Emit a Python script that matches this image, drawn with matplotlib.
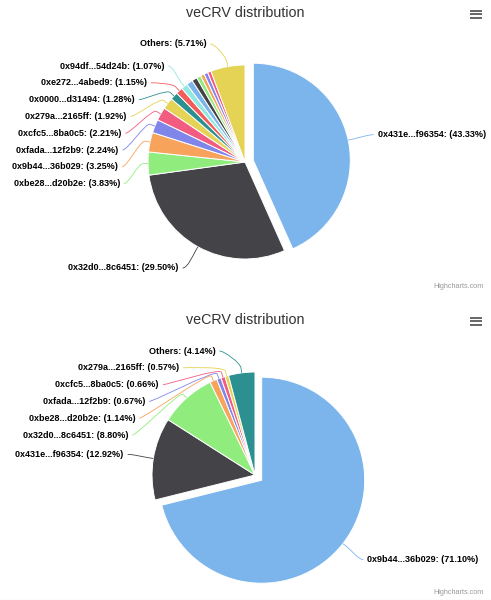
import numpy as np
import matplotlib
matplotlib.use("Agg")
import matplotlib.pyplot as plt
from matplotlib.path import Path
from matplotlib.patches import PathPatch

W, H = 491, 600
TITLE = "veCRV distribution"
PALETTE = ["#7cb5ec", "#434348", "#90ed7d", "#f7a35c", "#8085e9",
           "#f15c80", "#e4d354", "#2b908f", "#f45b5b", "#91e8e1"]

# None = slice whose label Highcharts dropped (no room left)
top_names = ["0x431e...f96354", "0x32d0...8c6451", "0xbe28...d20b2e",
             "0x9b44...36b029", "0xfada...12f2b9", "0xcfc5...8ba0c5",
             "0x279a...2165ff", "0x0000...d31494", "0xe272...4abed9",
             "0x94df...54d24b", None, None, None, None, None, None, "Others"]
top_values = [43.33, 29.50, 3.83, 3.25, 2.24, 2.21, 1.92, 1.28, 1.15, 1.07,
              1.05, 0.90, 0.70, 0.65, 0.63, 0.58, 5.71]

bottom_names = ["0x9b44...36b029", "0x431e...f96354", "0x32d0...8c6451",
                "0xbe28...d20b2e", "0xfada...12f2b9", "0xcfc5...8ba0c5",
                "0x279a...2165ff", "Others"]
bottom_values = [71.10, 12.92, 8.80, 1.14, 0.67, 0.66, 0.57, 4.14]

# layout in screen pixels, y pointing down
TOP = dict(cx=245, cy=162, r=97, title_y=13, label_top=44, label_bottom=268,
           credit_y=287)
BOTTOM = dict(cx=255, cy=475, r=103, title_y=320, label_top=351,
              label_bottom=575, credit_y=593)
SLICE_OFFSET = 8.5
LABEL_DIST = 26
LABEL_GAP = 16.8
PAD = 4
FONT = "Liberation Sans"


def Y(y):
    """screen px (down) -> data units (up)"""
    return H - y


def draw_chart(ax, names, values, lay):
    cx, cy, r = lay["cx"], lay["cy"], lay["r"]
    colors = [PALETTE[i % len(PALETTE)] for i in range(len(values))]
    explode = [SLICE_OFFSET] + [0] * (len(values) - 1)
    ax.pie(values, colors=colors, explode=explode, startangle=90,
           counterclock=False, center=(cx, Y(cy)), radius=r, frame=True,
           wedgeprops=dict(edgecolor="white", linewidth=0.7))

    total = sum(values)
    cum = np.cumsum([0] + list(values))
    R = r + LABEL_DIST
    left, right = [], []
    for i, (name, v) in enumerate(zip(names, values)):
        if name is None:
            continue
        th = np.radians(360 * (cum[i] + v / 2) / total)
        s, c = np.sin(th), np.cos(th)
        off = SLICE_OFFSET if i == 0 else 0
        ox, oy = cx + off * s, cy - off * c
        d = dict(text=f"{name}: ({v:.2f}%)", color=colors[i], s=s, c=c,
                 ox=ox, oy=oy, ny=oy - R * c)
        (left if s < 0 else right).append(d)

    for side, items in ((-1, left), (1, right)):
        items.sort(key=lambda d: d["ny"])
        prev = -1e9
        for d in items:
            y = min(max(d["ny"], lay["label_top"], prev + LABEL_GAP),
                    lay["label_bottom"])
            prev = y
            dy = y - d["oy"]
            x = d["ox"] + side * np.sqrt(max(R * R - dy * dy, 0))
            ax.text(x + side * PAD, Y(y), d["text"], family=FONT,
                    weight="bold", fontsize=6.5, color="#000000",
                    ha="right" if side < 0 else "left", va="center")
            s, c, ox, oy = d["s"], d["c"], d["ox"], d["oy"]
            touch = (ox + r * s, oy - r * c)
            brk = (ox + (r + 5) * s, oy - (r + 5) * c)
            ctl = (ox + (r + 10) * s, oy - (r + 10) * c)
            verts = [(x, y), (x - side * 5, y), ctl, brk, touch]
            verts = [(px, Y(py)) for px, py in verts]
            codes = [Path.MOVETO, Path.CURVE4, Path.CURVE4, Path.CURVE4,
                     Path.LINETO]
            ax.add_patch(PathPatch(Path(verts, codes), fill=False,
                                   edgecolor=d["color"], linewidth=0.6))

    ax.text(W / 2, Y(lay["title_y"]), TITLE, family=FONT, fontsize=10.3,
            color="#333333", ha="center", va="center")
    ax.text(484, Y(lay["credit_y"]), "Highcharts.com", family=FONT,
            fontsize=5.2, color="#999999", ha="right", va="center")
    # export menu (hamburger)
    for k in (-3.5, 0, 3.5):
        ax.plot([470, 482], [Y(lay["title_y"] + 1 + k)] * 2, color="#666666",
                linewidth=1.4, solid_capstyle="butt")


fig = plt.figure(figsize=(W / 100, H / 100), dpi=100)
ax = fig.add_axes([0, 0, 1, 1])
draw_chart(ax, top_names, top_values, TOP)
draw_chart(ax, bottom_names, bottom_values, BOTTOM)
ax.plot([0, W], [Y(599.5)] * 2, color="#cccccc", linewidth=0.8)
ax.set_xlim(0, W)
ax.set_ylim(0, H)
ax.set_aspect("equal")
ax.axis("off")
fig.savefig("out.png", dpi=100)
